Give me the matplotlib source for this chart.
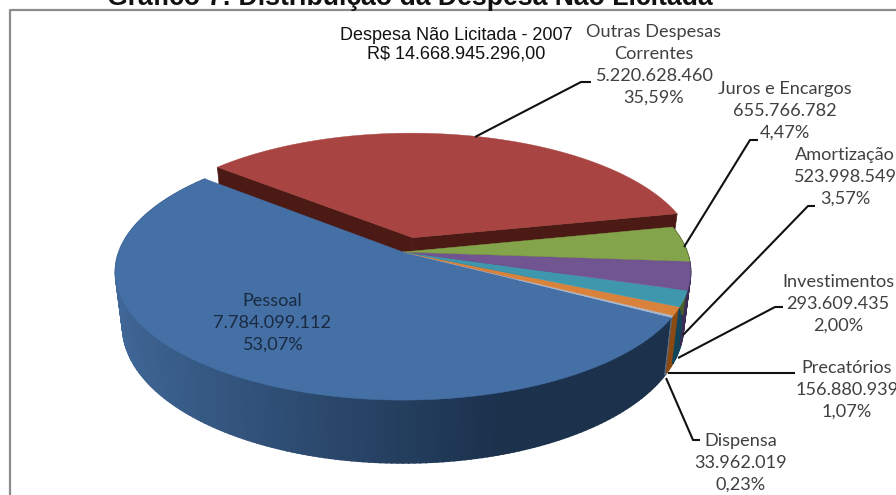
import matplotlib
matplotlib.use("Agg")
import matplotlib.pyplot as plt
import numpy as np

# slices in counter-clockwise order, starting at the big blue one
categorias = ["Pessoal", "Dispensa", "Precatórios", "Investimentos", "Amortização", "Juros e Encargos", "Outras Despesas\nCorrentes"]
valores = [7784099112, 33962019, 156880939, 293609435, 523998549, 655766782, 5220628460]
valores_txt = ["7.784.099.112", "33.962.019", "156.880.939", "293.609.435", "523.998.549", "655.766.782", "5.220.628.460"]
percentuais = ["53,07%", "0,23%", "1,07%", "2,00%", "3,57%", "4,47%", "35,59%"]
cores = ["#4470a6", "#aab8cf", "#d9823b", "#3f97ad", "#705590", "#84a44c", "#a84441"]
cores_lado = ["#000000", "#5a6a80", "#8a4a12", "#12445a", "#3a2c55", "#4c5f28", "#4b1a15"]

titulo = "Gráfico 7: Distribuição da Despesa Não Licitada"
subtitulo = "Despesa Não Licitada - 2007\nR$ 14.668.945.296,00"

# geometry of the perspective pie, in pixels of the figure
cx, cy = 403, 252
a, b, k = 284, 125, 0.156
prof = 53
encolhe = 0.975
inicio = 140.0
explode = 0.12


def proj(ang, r=1.0, off=(0, 0), base=False):
    u = r * np.cos(np.radians(ang)) + off[0]
    v = -r * np.sin(np.radians(ang)) + off[1]
    s = 1 / (1 - k * v)
    x = cx + a * u * s
    y = cy + b * v * s
    if base:
        x = cx + (x - cx) * encolhe
        y = y + prof * s
    return x, y


def mistura(c1, c2, t):
    c1 = np.array(matplotlib.colors.to_rgb(c1))
    c2 = np.array(matplotlib.colors.to_rgb(c2))
    return tuple(c1 + (c2 - c1) * t)


fig = plt.figure(figsize=(8.96, 4.95), dpi=100)
ax = fig.add_axes([0, 0, 1, 1])
ax.set_xlim(0, 896)
ax.set_ylim(495, 0)
ax.axis("off")

# frame: only left and top show up
ax.plot([10, 10, 896], [495, 10, 10], color="#8c8c8c", lw=1.6, zorder=1)

total = sum(valores)
passos = np.array(valores) / total * 360
fins = inicio + np.cumsum(passos)
inicios = fins - passos

# exploded slice first, everything else is drawn over it
i = len(valores) - 1
meio = np.radians((inicios[i] + fins[i]) / 2)
off = (explode * np.cos(meio) + 0.006, -explode * np.sin(meio))
for ang in [inicios[i], fins[i]]:
    pts = [proj(0, 0, off), proj(ang, 1, off), proj(ang, 1, off, True), proj(0, 0, off, True)]
    ax.fill(*zip(*pts), color=cores_lado[i], lw=0.5, zorder=2)
angs = np.linspace(inicios[i], fins[i], 120)
xs, ys = proj(angs, 1, off)
ax.fill(np.r_[xs, proj(0, 0, off)[0]], np.r_[ys, proj(0, 0, off)[1]], color=cores[i], lw=0.3, zorder=3)

# side walls of the other slices
for i in range(len(valores) - 1):
    angs = np.linspace(inicios[i], fins[i], max(int(passos[i]), 3) + 1)
    for a0, a1 in zip(angs[:-1], angs[1:]):
        pts = [proj(a0), proj(a1), proj(a1, base=True), proj(a0, base=True)]
        if i == 0:
            t = np.clip((np.cos(np.radians((a0 + a1) / 2)) + 1) / 1.3, 0, 1)
            cor = mistura("#41699a", "#1b314c", t)
        else:
            cor = cores_lado[i]
        ax.fill(*zip(*pts), color=cor, ec=cor, lw=1.2, zorder=4)

# top faces
for i in range(len(valores) - 1):
    angs = np.linspace(inicios[i], fins[i], max(int(passos[i]) * 2, 4))
    xs, ys = proj(angs)
    ax.fill(np.r_[xs, cx], np.r_[ys, cy], color=cores[i], lw=0.3, zorder=5)

# leader lines
lideres = [
    ([475, 581, 591], [137, 82, 82]),
    ([684, 750, 758], [247, 140, 140]),
    ([683, 808, 815], [335, 206, 206]),
    ([678, 775, 783], [358, 307, 307]),
    ([668, 795], [373, 373]),
    ([666, 693, 700], [378, 440, 440]),
]
for xs, ys in lideres:
    ax.plot(xs, ys, color="#111111", lw=1.5, zorder=6, solid_capstyle="butt")

# data labels
pos_rotulos = [(272, 323), (741, 463), (847, 390), (838, 304), (845, 177), (785, 111), (654, 65)]
for i, (x, y) in enumerate(pos_rotulos):
    txt = categorias[i] + "\n" + valores_txt[i] + "\n" + percentuais[i]
    cor = "#1a2a40" if i == 0 else "#404040"
    ax.text(x, y, txt, ha="center", va="center", family="Lato", fontsize=13.1,
            color=cor, linespacing=1.45, zorder=7, clip_on=True)

ax.text(456, 44.5, subtitulo, ha="center", va="center", family="Liberation Sans",
        fontsize=13, color="#111111", linespacing=1.1, zorder=7)
ax.text(410, 5, titulo, ha="center", va="baseline", family="Liberation Sans",
        fontsize=19.2, fontweight="bold", color="#111111", zorder=7, clip_on=False)

fig.savefig("out.png", dpi=100)
